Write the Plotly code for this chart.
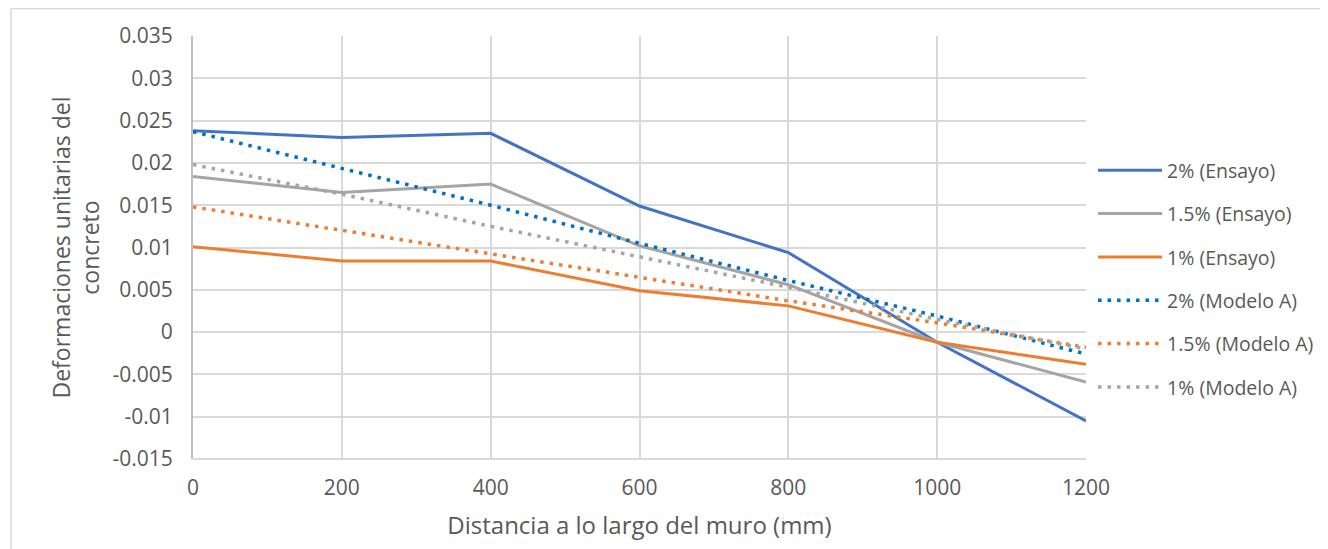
import plotly.graph_objects as go

distancia = [0, 200, 400, 600, 800, 1000, 1200]

ensayo_2 = [0.0238, 0.0230, 0.0235, 0.0149, 0.0094, -0.0012, -0.0105]
ensayo_15 = [0.0184, 0.0165, 0.0175, 0.0102, 0.0056, -0.0012, -0.0059]
ensayo_1 = [0.0101, 0.0084, 0.0084, 0.0049, 0.0031, -0.0012, -0.0038]
modelo_2 = [0.0237, 0.0194, 0.0150, 0.0105, 0.0061, 0.0019, -0.0026]
modelo_15 = [0.0148, 0.0120, 0.0092, 0.0065, 0.0037, 0.0011, -0.0018]
modelo_1 = [0.0198, 0.0163, 0.0125, 0.0089, 0.0053, 0.0015, -0.0020]

y_tick_values = [-0.015, -0.01, -0.005, 0, 0.005, 0.01, 0.015, 0.02, 0.025, 0.03, 0.035]
y_tick_labels = ["-0.015", "-0.01", "-0.005", "0", "0.005", "0.01", "0.015", "0.02", "0.025", "0.03", "0.035"]

series = [
    ("2% (Ensayo)", ensayo_2, "#4472C4", "solid"),
    ("1.5% (Ensayo)", ensayo_15, "#A5A5A5", "solid"),
    ("1% (Ensayo)", ensayo_1, "#ED7D31", "solid"),
    ("2% (Modelo A)", modelo_2, "#0070C0", "dot"),
    ("1.5% (Modelo A)", modelo_15, "#ED7D31", "dot"),
    ("1% (Modelo A)", modelo_1, "#A5A5A5", "dot"),
]

fig = go.Figure()
for i, (name, vals, color, dash) in enumerate(series):
    if dash == "dot":
        line = dict(color=color, width=3.5, dash="3.5px,6px")
    else:
        line = dict(color=color, width=3)
    fig.add_trace(go.Scatter(
        x=distancia, y=vals, name=name, mode="lines",
        line=line, legendgroup=f"g{i}",
    ))

txt = "#595959"
fnt = "Open Sans"
W, H = 1320, 541
L, T = 185, 28
PW, PH = 893, 423
fig.update_layout(
    width=W, height=H,
    margin=dict(l=L, r=W - L - PW, t=T, b=H - T - PH, autoexpand=False),
    paper_bgcolor="white", plot_bgcolor="white",
    font=dict(family=fnt, color=txt, size=20),
    showlegend=True,
    legend=dict(
        xref="container", yref="container",
        x=0.8220, y=0.499, xanchor="left", yanchor="middle",
        font=dict(size=19.5, color=txt, family=fnt),
        traceorder="grouped", tracegroupgap=15,
        itemwidth=64, bgcolor="rgba(0,0,0,0)",
    ),
    xaxis=dict(
        range=[0, 1200], dtick=200, tick0=0,
        showgrid=True, gridcolor="#D9D9D9", gridwidth=2,
        zeroline=False, showline=False,
        ticks="", tickfont=dict(size=21, color=txt),
        ticklabelstandoff=14,
        title=dict(text="Distancia a lo largo del muro (mm)", font=dict(size=24, color=txt), standoff=17),
    ),
    yaxis=dict(
        range=[-0.015, 0.035], tickvals=y_tick_values, ticktext=y_tick_labels,
        showgrid=True, gridcolor="#D9D9D9", gridwidth=2,
        zeroline=False, showline=True, linecolor="#BFBFBF", linewidth=2,
        ticks="", tickfont=dict(size=21, color=txt),
        ticklabelstandoff=14,
        title=dict(text="Deformaciones unitarias del<br>concreto", font=dict(size=23, color=txt), standoff=6),
    ),
    shapes=[
        dict(type="line", xref="paper", yref="paper",
             x0=(3 - L) / PW, x1=(W - L) / PW,
             y0=(T + PH - 0.5) / PH, y1=(T + PH - 0.5) / PH,
             line=dict(color="#D9D9D9", width=1.5)),
        dict(type="line", xref="paper", yref="paper",
             x0=(3 - L) / PW, x1=(3 - L) / PW,
             y0=(T + PH - 0.5) / PH, y1=(T + PH - H - 10) / PH,
             line=dict(color="#D9D9D9", width=1.5)),
        dict(type="line", xref="paper", yref="paper",
             x0=0, x1=1, y0=0, y1=0,
             line=dict(color="#D9D9D9", width=2)),
    ],
)

fig.write_html("out.html")
